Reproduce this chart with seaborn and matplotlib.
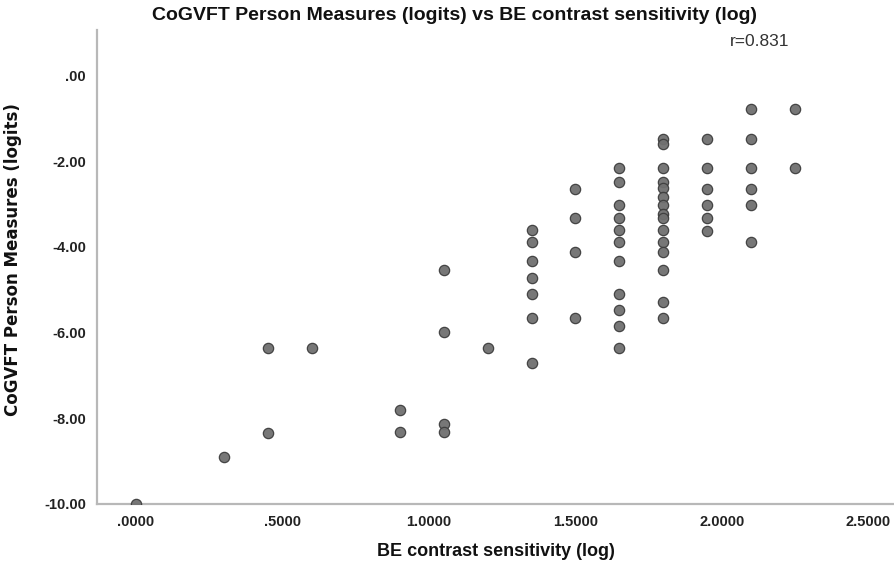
import matplotlib
matplotlib.use("Agg")
import matplotlib.pyplot as plt
import seaborn as sns
import pandas as pd

# ---- data ----
cs_0_00 = [-10.0]
cs_0_30 = [-8.90]
cs_0_45 = [-6.36, -8.34]
cs_0_60 = [-6.36]
cs_0_90 = [-7.81, -8.32]
cs_1_05 = [-4.54, -5.99, -8.13, -8.32]
cs_1_20 = [-6.36]
cs_1_35 = [-3.61, -3.88, -4.33, -4.73, -5.10, -5.66, -6.70]
cs_1_50 = [-2.64, -3.33, -4.11, -5.67]
cs_1_65 = [-2.15, -2.48, -3.02, -3.33, -3.61, -3.88, -4.33, -5.10, -5.47, -5.85, -6.35]
cs_1_80 = [-1.49, -1.60, -2.15, -2.48, -2.63, -2.84, -3.02, -3.23, -3.33, -3.61,
           -3.88, -4.11, -4.54, -5.29, -5.67]
cs_1_95 = [-1.49, -2.15, -2.64, -3.02, -3.33, -3.62]
cs_2_10 = [-0.79, -1.49, -2.15, -2.64, -3.02, -3.88]
cs_2_25 = [-0.79, -2.15]

contrast_levels = [0.0, 0.30, 0.45, 0.60, 0.90, 1.05, 1.20, 1.35, 1.50, 1.65, 1.80, 1.95, 2.10, 2.25]
measures_by_level = [cs_0_00, cs_0_30, cs_0_45, cs_0_60, cs_0_90, cs_1_05, cs_1_20, cs_1_35,
                     cs_1_50, cs_1_65, cs_1_80, cs_1_95, cs_2_10, cs_2_25]

x_ticks = [0.0, 0.5, 1.0, 1.5, 2.0, 2.5]
x_tick_labels = [".0000", ".5000", "1.0000", "1.5000", "2.0000", "2.5000"]
y_ticks = [0, -2, -4, -6, -8, -10]
y_tick_labels = [".00", "-2.00", "-4.00", "-6.00", "-8.00", "-10.00"]

title = "CoGVFT Person Measures (logits) vs BE contrast sensitivity (log)"
x_label = "BE contrast sensitivity (log)"
y_label = "CoGVFT Person Measures (logits)"
r_text = "r=0.831"

rows = []
for lvl, vals in zip(contrast_levels, measures_by_level):
    for v in vals:
        rows.append({"cs": lvl, "pm": v})
df = pd.DataFrame(rows)

# ---- plot ----
sns.set_theme(style="white")
plt.rcParams["font.family"] = ["Liberation Sans Narrow", "Liberation Sans", "DejaVu Sans"]

fig = plt.figure(figsize=(8.94, 5.65), dpi=100)
ax = fig.add_axes([97 / 894, 1 - 504 / 565, (894 - 97) / 894, (504 - 30) / 565])

sns.scatterplot(data=df, x="cs", y="pm", ax=ax, s=55, color="#707070",
                edgecolor="#3e3e3e", linewidth=0.9, alpha=0.95, zorder=3)

ax.set_xlim(-0.133, 2.587)
ax.set_ylim(-10.0, 1.06)
ax.set_xticks(x_ticks)
ax.set_xticklabels(x_tick_labels, fontsize=10.5, fontweight="bold", color="#222222")
ax.set_yticks(y_ticks)
ax.set_yticklabels(y_tick_labels, fontsize=10.5, fontweight="bold", color="#222222")
ax.tick_params(axis="both", length=0, pad=8)

for side in ["top", "right"]:
    ax.spines[side].set_visible(False)
for side in ["left", "bottom"]:
    ax.spines[side].set_color("#b8b8b8")
    ax.spines[side].set_linewidth(1.6)

ax.set_xlabel(x_label, fontsize=13, fontweight="bold", color="#111111", labelpad=10)
ax.set_ylabel(y_label, fontsize=12, fontweight="bold", color="#111111",
              family=["DejaVu Sans"])
ax.yaxis.set_label_coords(-(97 - 22) / (894 - 97), (504 - 260) / (504 - 30))

fig.text(455 / 894, 1 - 16 / 565, title, ha="center", va="center",
         fontsize=14, fontweight="bold", color="#111111")
ax.text(2.13, 0.78, r_text, ha="center", va="center", fontsize=12.5, color="#333333")

fig.savefig("out.png", dpi=100)
